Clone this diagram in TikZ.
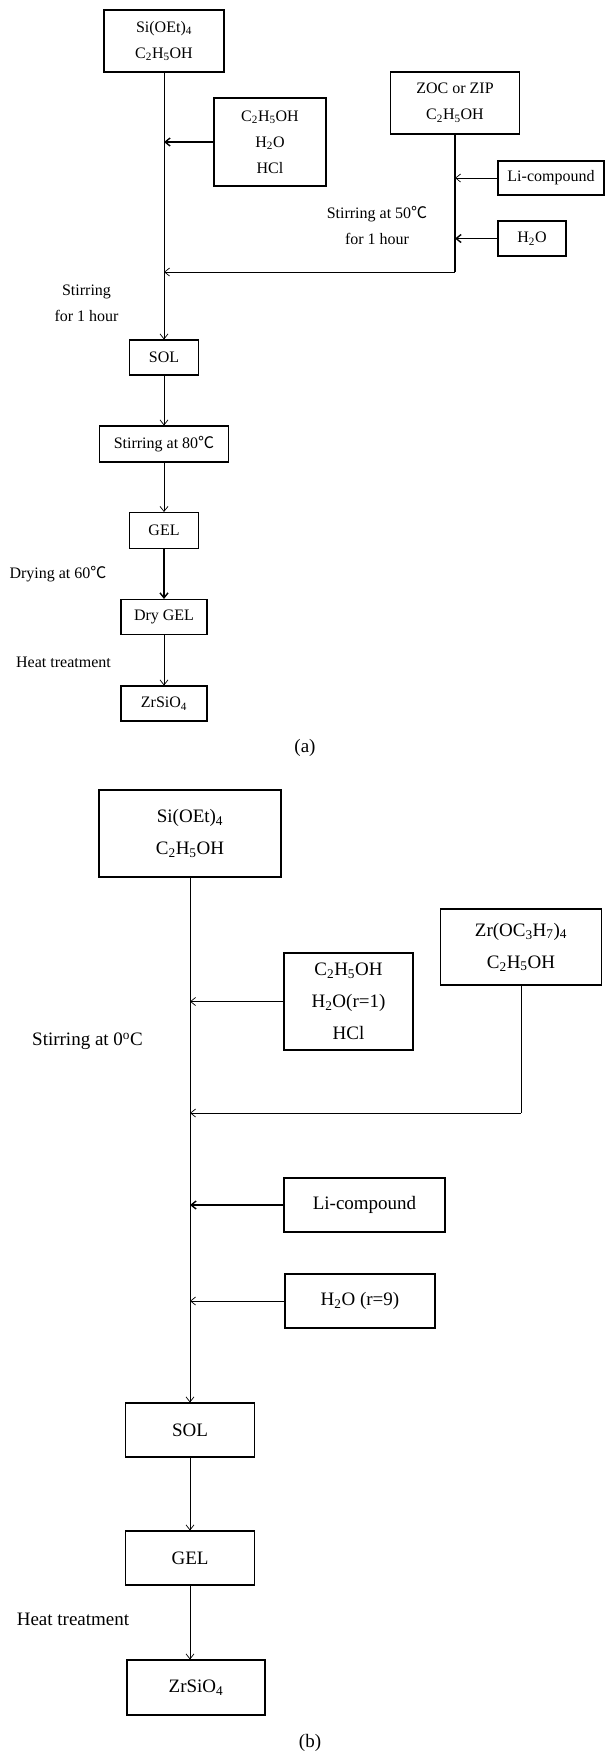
\documentclass[tikz,border=0pt]{standalone}
\usepackage{fontspec}
\setmainfont{Liberation Serif}
\newfontfamily\cjk{Noto Sans CJK SC}
\usepackage{tikz}
\usetikzlibrary{shapes,arrows.meta,positioning}

\newcommand{\dgc}{{\cjk ℃}}
\newcommand{\fa}{\fontsize{16}{26}\selectfont}
\newcommand{\fb}{\fontsize{19}{32}\selectfont}

\begin{document}
\begin{tikzpicture}[
            x=1pt, y=-1pt,
            node distance=86.5pt,
            boxa/.style={rectangle, draw, line width=1.1pt, align=center, inner sep=0pt, font=\fa},
            boxb/.style={rectangle, draw, line width=1.1pt, align=center, inner sep=0pt, font=\fb},
            side_text/.style={align=center, inner sep=0pt},
            line/.style={draw, -{Straight Barb[length=5pt,width=8pt]}, line width=0.7pt},
            thick_line/.style={line, line width=1.4pt}
        ]
        \useasboundingbox (0,0) rectangle (606,1751);

        % (a) Main Nodes
        \node [boxa, minimum width=120pt, minimum height=62pt] (siA) at (164,41) {Si(OEt)\textsubscript{4}\\C\textsubscript{2}H\textsubscript{5}OH};
        \node [boxa, minimum width=69pt, minimum height=35pt, below of=siA, node distance=316.5pt] (solA) {SOL};
        \node [boxa, minimum width=129pt, minimum height=36pt, below of=solA] (stirA) {Stirring at 80\dgc};
        \node [boxa, minimum width=69pt, minimum height=36pt, below of=stirA] (gelA) {GEL};
        \node [boxa, minimum width=86pt, minimum height=35pt, below of=gelA] (dryA) {Dry GEL};
        \node [boxa, minimum width=86pt, minimum height=35pt, below of=dryA] (zrA) {ZrSiO\textsubscript{4}};

        % (a) Side Nodes
        \node [boxa, minimum width=112pt, minimum height=88pt] (c2A) at (270,142) {C\textsubscript{2}H\textsubscript{5}OH\\H\textsubscript{2}O\\HCl};
        \node [boxa, minimum width=129pt, minimum height=62pt] (zocA) at (455,103) {ZOC or ZIP\\C\textsubscript{2}H\textsubscript{5}OH};
        \node [boxa, minimum width=106pt, minimum height=34pt] (liA) at (551,178) {Li-compound};
        \node [boxa, minimum width=68pt, minimum height=35pt] (waterA) at (532,238.5) {H\textsubscript{2}O};
        \coordinate (joinA) at (455,272);

        % (a) Texts
        \node [side_text, font=\fa] (stir50) at (377,225.5) {Stirring at 50\dgc\\for 1 hour};
        \node [side_text, font=\fa] (stir1h) at (86.5,303) {Stirring\\for 1 hour};
        \node [side_text, font=\fa] (dry60) at (58,574) {Drying at 60\dgc};
        \node [side_text, font=\fa] (heatA) at (63.5,662) {Heat treatment};
        \node [side_text, font=\fb] (capA) at (305,748) {(a)};

        % (a) Edges
        \path [line] (siA) -- (solA);
        \path [thick_line] (c2A) -- (siA.south |- c2A.west);
        \draw [line width=1.4pt] (zocA) -- (joinA);
        \path [line] (joinA) -- (siA.south |- joinA);
        \path [line] (liA) -- (zocA.south |- liA.west);
        \path [thick_line] (waterA) -- (zocA.south |- waterA.west);
        \path [line] (solA) -- (stirA);
        \path [line] (stirA) -- (gelA);
        \path [thick_line] (gelA) -- (dryA);
        \path [line] (dryA) -- (zrA);

        % (b) Main Nodes
        \node [boxb, minimum width=182pt, minimum height=87pt] (siB) at (190,833.5) {Si(OEt)\textsubscript{4}\\C\textsubscript{2}H\textsubscript{5}OH};
        \node [boxb, minimum width=129pt, minimum height=54pt, below of=siB, node distance=596.5pt] (solB) {SOL};
        \node [boxb, minimum width=129pt, minimum height=54pt, below of=solB, node distance=128pt] (gelB) {GEL};
        \node [boxb, minimum width=138pt, minimum height=55pt, below of=gelB, node distance=129.5pt, xshift=6pt] (zrsB) {ZrSiO\textsubscript{4}};

        % (b) Side Nodes
        \node [boxb, minimum width=129pt, minimum height=97pt] (c2B) at (348.5,1001.5) {C\textsubscript{2}H\textsubscript{5}OH\\H\textsubscript{2}O(r=1)\\HCl};
        \node [boxb, minimum width=161pt, minimum height=76pt] (zrB) at (521,947) {Zr(OC\textsubscript{3}H\textsubscript{7})\textsubscript{4}\\C\textsubscript{2}H\textsubscript{5}OH};
        \node [boxb, minimum width=161pt, minimum height=54pt] (liB) at (364.5,1205) {Li-compound};
        \node [boxb, minimum width=150pt, minimum height=54pt] (waterB) at (360,1301) {H\textsubscript{2}O (r=9)};
        \coordinate (joinB) at (521,1113);

        % (b) Texts
        \node [side_text, font=\fb] (stir0) at (87.5,1041) {Stirring at 0\textsuperscript{o}C};
        \node [side_text, font=\fb] (heatB) at (73,1619) {Heat treatment};
        \node [side_text, font=\fb] (capB) at (310,1743) {(b)};

        % (b) Edges
        \path [line] (siB) -- (solB);
        \path [line] (c2B) -- (siB.south |- c2B.west);
        \draw [line width=0.7pt] (zrB) -- (joinB);
        \path [line] (joinB) -- (siB.south |- joinB);
        \path [thick_line] (liB) -- (siB.south |- liB.west);
        \path [line] (waterB) -- (siB.south |- waterB.west);
        \path [line] (solB) -- (gelB);
        \path [line] (gelB.south) -- (gelB.south |- zrsB.north);

    \end{tikzpicture}
\end{document}
